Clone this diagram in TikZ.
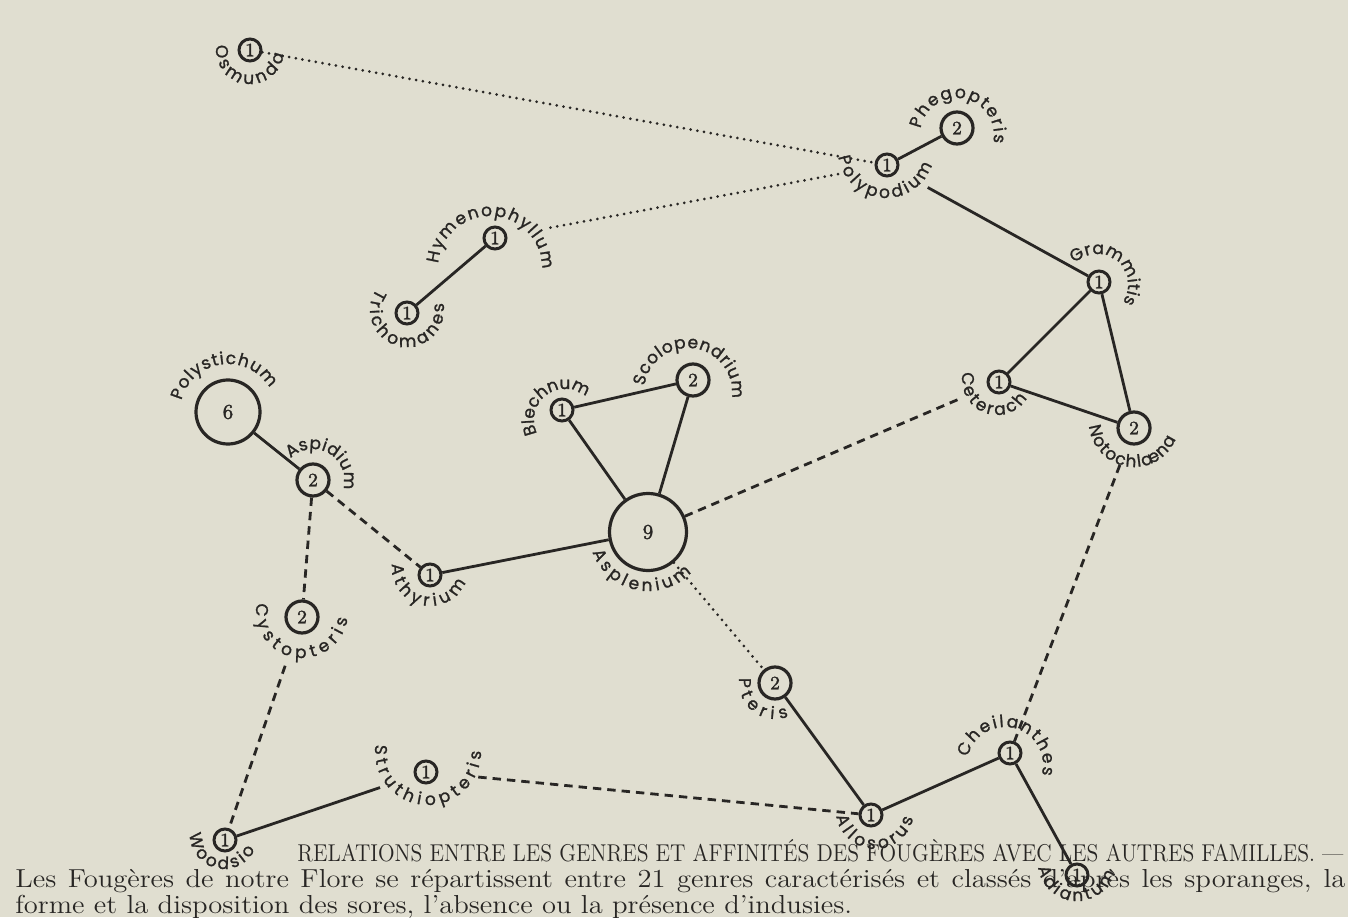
\documentclass[tikz,border=0pt]{standalone}
\usepackage{fontspec}
\usepackage{graphicx}
\usepackage{xcolor}
\usepackage{tikz}
\usetikzlibrary{decorations.text}

\newfontfamily\genusfont[RawFeature={embolden=1.3}]{Poppins}
\newfontfamily\captionfont[Ligatures=TeX, FakeStretch=1.1]{Latin Modern Roman}
\newfontfamily\countfont[RawFeature={embolden=1.6}]{Latin Modern Roman}
\newcommand{\glabelfont}{\genusfont\fontsize{8.5}{9}\selectfont}

\definecolor{paper}{RGB}{224,222,208}
\definecolor{ink}{RGB}{40,38,36}

\tikzset{
  genus/.style={circle, draw=ink, line width=1.5pt, fill=paper, inner sep=0pt,
    minimum size=11pt, text=ink, font=\countfont\fontsize{9.5}{10}\selectfont},
  genus2/.style={genus, minimum size=16pt, line width=1.6pt},
  genus6/.style={genus, minimum size=32pt, line width=1.6pt, font=\countfont\fontsize{10.5}{11}\selectfont},
  genus9/.style={genus, minimum size=38.5pt, line width=1.6pt, font=\countfont\fontsize{10.5}{11}\selectfont},
  solid link/.style={draw=ink, line width=1.4pt},
  dashed link/.style={solid link, dash pattern=on 4.2pt off 3pt},
  dotted link/.style={draw=ink, line width=1.5pt, line cap=round, dash pattern=on 0pt off 3.4pt},
  genus label/.style={postaction={decorate}, decoration={text along path,
    text={|\glabelfont|#1}, text color=ink, text align=fit to path}},
  caption line/.style={anchor=base west, inner sep=0pt, text=ink, font=\captionfont\fontsize{13}{14}\selectfont}
}

\begin{document}
\begin{tikzpicture}[x=0.5pt, y=0.5pt]
\useasboundingbox (0,0) rectangle (1348,917);
\fill[paper] (0,0) rectangle (1348,917);

% genres
\node[genus] (osmunda) at (250,867) {1};
\node[genus] (polypodium) at (887,752) {1};
\node[genus2] (phegopteris) at (957,789) {2};
\node[genus] (hymenophyllum) at (495,679) {1};
\node[genus] (trichomanes) at (407,604) {1};
\node[genus6] (polystichum) at (228,505) {6};
\node[genus2] (aspidium) at (313,437) {2};
\node[genus2] (cystopteris) at (302,300) {2};
\node[genus] (athyrium) at (430,342) {1};
\node[genus] (blechnum) at (562,507) {1};
\node[genus2] (scolopendrium) at (693,537) {2};
\node[genus9] (asplenium) at (648,385) {9};
\node[genus] (grammitis) at (1099,635) {1};
\node[genus] (ceterach) at (999,535) {1};
\node[genus2] (notochlaena) at (1134,489) {2};
\node[genus2] (pteris) at (775,234) {2};
\node[genus] (allosorus) at (871,102) {1};
\node[genus] (cheilanthes) at (1010,164) {1};
\node[genus] (adiantum) at (1077,42) {1};
\node[genus] (struthiopteris) at (426,145) {1};
\node[genus] (woodsio) at (225,77) {1};

% affinites
\draw[solid link] (polypodium) -- (phegopteris);
\draw[solid link, shorten <=17pt] (polypodium) -- (grammitis);
\draw[solid link] (hymenophyllum) -- (trichomanes);
\draw[solid link] (polystichum) -- (aspidium);
\draw[solid link] (athyrium) -- (asplenium);
\draw[solid link] (blechnum) -- (scolopendrium);
\draw[solid link] (blechnum) -- (asplenium);
\draw[solid link] (scolopendrium) -- (asplenium);
\draw[solid link] (grammitis) -- (ceterach);
\draw[solid link] (grammitis) -- (notochlaena);
\draw[solid link] (ceterach) -- (notochlaena);
\draw[solid link] (pteris) -- (allosorus);
\draw[solid link] (allosorus) -- (cheilanthes);
\draw[solid link] (cheilanthes) -- (adiantum);
\draw[solid link, shorten >=18pt] (woodsio) -- (struthiopteris);

\draw[dashed link] (aspidium) -- (athyrium);
\draw[dashed link] (aspidium) -- (cystopteris);
\draw[dashed link, shorten <=17pt] (cystopteris) -- (woodsio);
\draw[dashed link, shorten >=15pt] (asplenium) -- (ceterach);
\draw[dashed link, shorten <=11pt] (notochlaena) -- (cheilanthes);
\draw[dashed link, shorten <=20pt] (struthiopteris) -- (allosorus);

\draw[dotted link] (osmunda) -- (polypodium);
\draw[dotted link, shorten <=22pt, shorten >=18pt] (hymenophyllum) -- (polypodium);
\draw[dotted link] (asplenium) -- (pteris);

% noms
\path[genus label=Osmunda] (250,867) ++(172:34) arc[start angle=172, end angle=353, radius=34];
\path[genus label=Phegopteris] (957,782) ++(170:37) arc[start angle=170, end angle=-12, radius=37];
\path[genus label=Polypodium] (886,767) ++(188:48) arc[start angle=188, end angle=342, radius=48];
\path[genus label=Hymenophyllum] (490,649) ++(175:52) arc[start angle=175, end angle=-1, radius=52];
\path[genus label=Trichomanes] (407,607) ++(145:37) arc[start angle=145, end angle=371, radius=37];
\path[genus label=Polystichum] (228,505) ++(166:48) arc[start angle=166, end angle=30, radius=48];
\path[genus label=Aspidium] (313,437) ++(136:31) arc[start angle=136, end angle=-17, radius=31];
\path[genus label=Cystopteris] (302,305) ++(169:46) arc[start angle=169, end angle=352, radius=46];
\path[genus label=Athyrium] (430,349) ++(174:38) arc[start angle=174, end angle=338, radius=38];
\path[genus label=Blechnum] (565,497) ++(206:31) arc[start angle=206, end angle=52, radius=31];
\path[genus label=Scolopendrium] (688,525) ++(172:44) arc[start angle=172, end angle=-8, radius=44];
\path[genus label=Asplenium] (648,385) ++(200:59) arc[start angle=200, end angle=317, radius=59];
\path[genus label=Grammitis] (1097,632) ++(136:31) arc[start angle=136, end angle=-34, radius=31];
\path[genus label=Ceterach] (997,537) ++(167:35) arc[start angle=167, end angle=329, radius=35];
\path[genus label=Notochlæna] (1134,495) ++(185:45) arc[start angle=185, end angle=338, radius=45];
\path[genus label=Pteris] (775,234) ++(172:36) arc[start angle=172, end angle=292, radius=36];
\path[genus label=Allosorus] (875,107) ++(189:39) arc[start angle=189, end angle=348, radius=39];
\path[genus label=Cheilanthes] (1005,152) ++(168:38) arc[start angle=168, end angle=-15, radius=38];
\path[genus label=Adiantum] (1077,55) ++(188:39) arc[start angle=188, end angle=344, radius=39];
\path[genus label=Struthiopteris] (428,165) ++(172:53) arc[start angle=172, end angle=361, radius=53];
\path[genus label=Woodsio] (224,82) ++(178:34) arc[start angle=178, end angle=335, radius=34];

% legende
\node[caption line] (heading) at (297,56) {\resizebox{523pt}{11pt}{\captionfont\fontsize{12}{13}\selectfont RELATIONS ENTRE LES GENRES ET AFFINITÉS DES FOUGÈRES AVEC LES AUTRES FAMILLES. —}};
\node[caption line] (caption) at (15,30) {\makebox[665pt][s]{Les Fougères de notre Flore se répartissent entre 21 genres caractérisés et classés d’après les sporanges, la}};
\node[caption line] (caption end) at (15,4) {forme et la disposition des sores, l’absence ou la présence d’indusies.};
\end{tikzpicture}
\end{document}
